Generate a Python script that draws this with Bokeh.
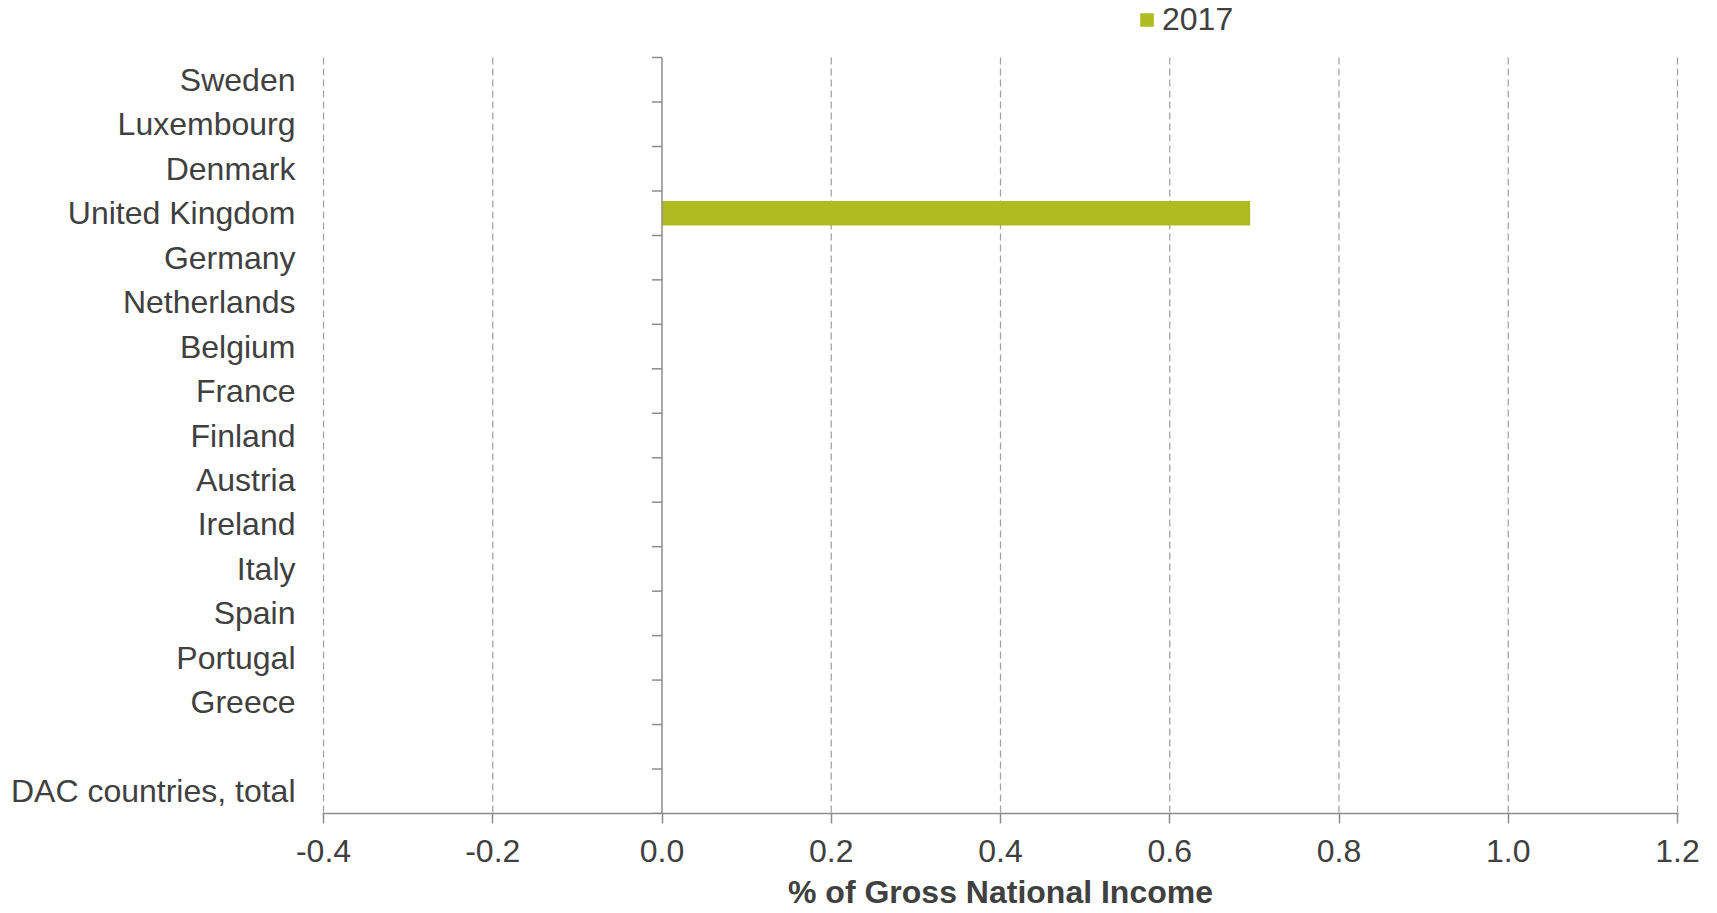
from bokeh.plotting import figure
from bokeh.models import (ColumnDataSource, Range1d, LinearAxis, FixedTicker,
                          NumeralTickFormatter, Legend, LegendItem)
from bokeh.embed import file_html
from bokeh.resources import INLINE

# ---- data ----
countries = ["Sweden", "Luxembourg", "Denmark", "United Kingdom", "Germany",
             "Netherlands", "Belgium", "France", "Finland", "Austria", "Ireland",
             "Italy", "Spain", "Portugal", "Greece", "", "DAC countries, total"]
values_2017 = [float("nan"), float("nan"), float("nan"), 0.695, float("nan"),
               float("nan"), float("nan"), float("nan"), float("nan"), float("nan"),
               float("nan"), float("nan"), float("nan"), float("nan"), float("nan"),
               float("nan"), float("nan")]
x_ticks = [-0.4, -0.2, 0.0, 0.2, 0.4, 0.6, 0.8, 1.0, 1.2]
series_name = "2017"
x_title = "% of Gross National Income"

n = len(countries)
ypos = [n - i - 0.5 for i in range(n)]
src = ColumnDataSource(dict(y=ypos, v=values_2017, name=countries))

FONT = "Liberation Sans"
FS = "32px"
TXT = "#404040"
AX = "#8c8c8c"

W, H = 1717, 913
ML, MR, MT, MB = 323, 40, 57, 100
PAD = 1  # one pixel of room so the edge gridlines are not half clipped
frame_w = W - ML - MR
px = (x_ticks[-1] - x_ticks[0]) / frame_w
# frame reaches the top of the canvas so the legend can sit above the plot area
y_end = n * (H - MB) / (H - MB - MT)

p = figure(width=W, height=H, output_backend="svg", toolbar_location=None,
           x_range=Range1d(x_ticks[0] - PAD * px, x_ticks[-1] + PAD * px),
           y_range=Range1d(0, y_end),
           x_axis_location=None, y_axis_location=None,
           min_border_left=ML - PAD, min_border_right=MR - PAD, min_border_top=0,
           min_border_bottom=MB)
p.outline_line_color = None
p.background_fill_color = "white"
p.border_fill_color = "white"
p.xgrid.grid_line_color = None
p.ygrid.grid_line_color = None

# dashed vertical gridlines over the category area
gx = [t for t in x_ticks if t != 0.0]
p.segment(x0=gx, x1=gx, y0=[n] * len(gx), y1=[0] * len(gx),
          line_color="#a0a0a0", line_dash="7 4", line_width=1.25)

bar = p.hbar(y="y", left=0, right="v", height=0.55, source=src,
             fill_color="#afbc21", line_color=None)

# bottom value axis
xa = LinearAxis(ticker=FixedTicker(ticks=x_ticks),
                formatter=NumeralTickFormatter(format="0.0"))
xa.axis_line_color = AX
xa.axis_line_width = 1.5
xa.major_tick_line_color = AX
xa.major_tick_line_width = 1.5
xa.major_tick_out = 10
xa.major_tick_in = 0
xa.minor_tick_line_color = None
xa.major_label_text_font = FONT
xa.major_label_text_font_size = FS
xa.major_label_text_color = TXT
xa.major_label_standoff = 16
xa.axis_label = x_title
xa.axis_label_text_font = FONT
xa.axis_label_text_font_size = FS
xa.axis_label_text_font_style = "bold"
xa.axis_label_text_color = TXT
xa.axis_label_standoff = 9
p.add_layout(xa, "below")

# category labels (left)
ya = LinearAxis(ticker=FixedTicker(ticks=ypos),
                major_label_overrides={y: c for y, c in zip(ypos, countries)})
ya.axis_line_color = None
ya.major_tick_line_color = None
ya.minor_tick_line_color = None
ya.major_label_standoff = 22 - PAD
ya.major_label_text_font = FONT
ya.major_label_text_font_size = FS
ya.major_label_text_color = TXT
p.add_layout(ya, "left")

# vertical axis line at zero with ticks on category boundaries
p.segment(x0=[0], x1=[0], y0=[0], y1=[n], line_color=AX, line_width=1.5)
tick_len = 10 * px
bounds = list(range(n + 1))
p.segment(x0=[0] * len(bounds), x1=[-tick_len] * len(bounds), y0=bounds, y1=bounds,
          line_color=AX, line_width=1.5)

legend = Legend(items=[LegendItem(label=series_name, renderers=[bar])],
                location=(816, 775), orientation="horizontal")
legend.padding = 0
legend.margin = 0
legend.spacing = 0
legend.border_line_color = None
legend.background_fill_alpha = 0
legend.glyph_width = 17
legend.glyph_height = 17
legend.label_standoff = 7
legend.label_text_font = FONT
legend.label_text_font_size = FS
legend.label_text_color = TXT
p.add_layout(legend, "center")

open("out.html", "w").write(file_html(p, INLINE))
